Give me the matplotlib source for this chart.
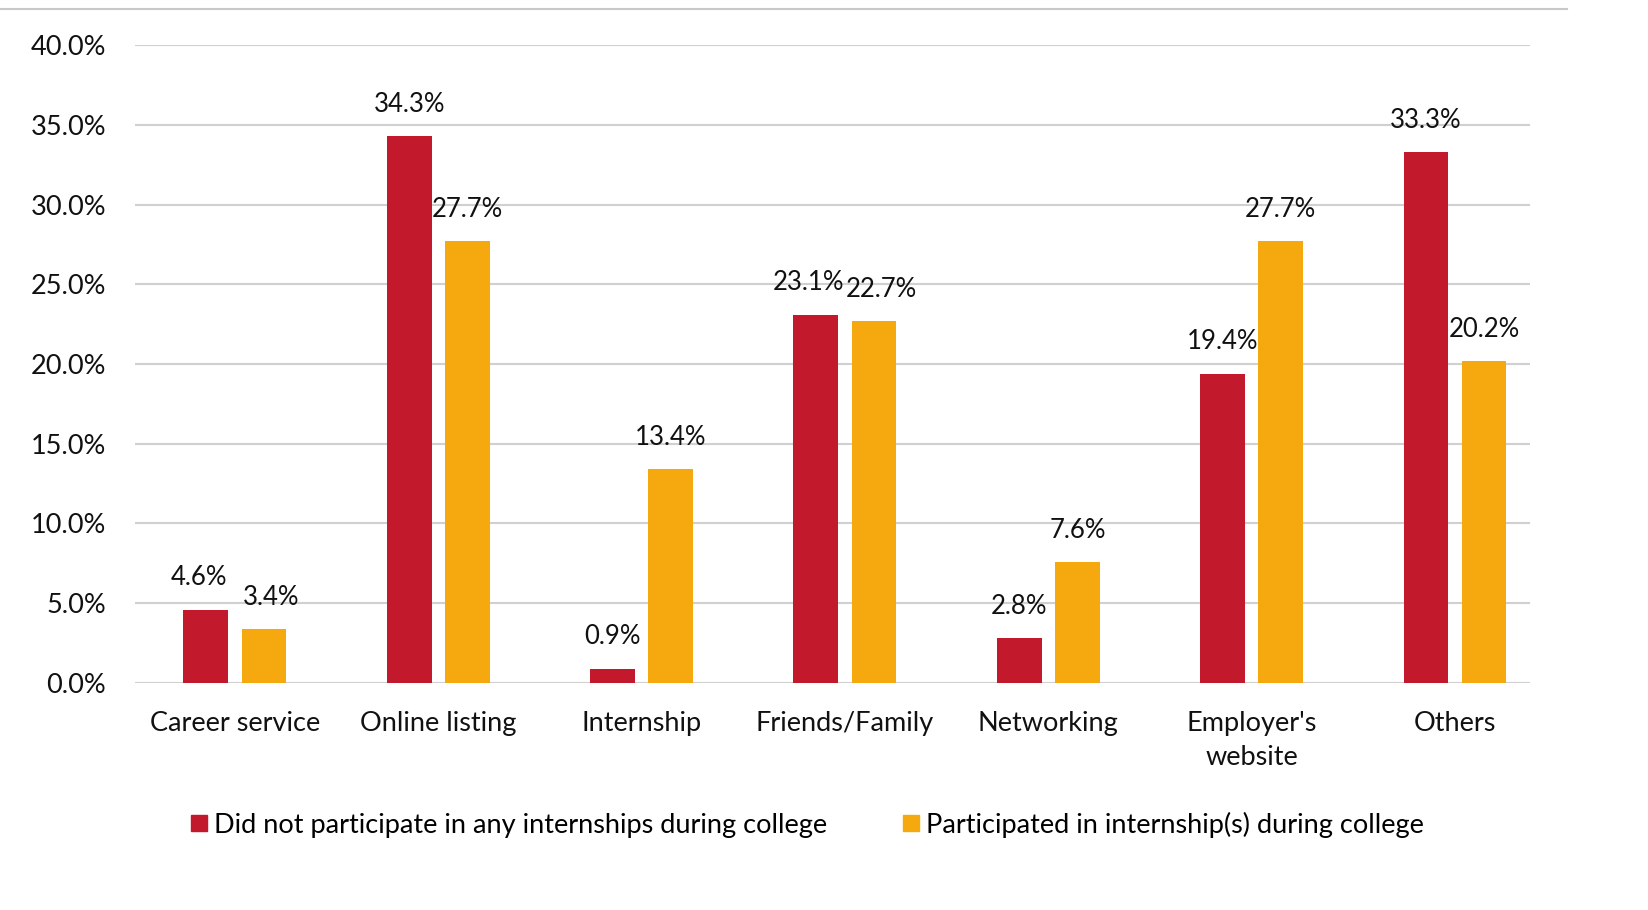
import numpy as np
import matplotlib.pyplot as plt
from matplotlib.lines import Line2D

categories = ["Career service", "Online listing", "Internship", "Friends/Family",
              "Networking", "Employer's\nwebsite", "Others"]
no_intern = [4.6, 34.3, 0.9, 23.1, 2.8, 19.4, 33.3]
intern = [3.4, 27.7, 13.4, 22.7, 7.6, 27.7, 20.2]
series_names = ["Did not participate in any internships during college",
                "Participated in internship(s) during college"]
yticks = [0, 5, 10, 15, 20, 25, 30, 35, 40]

red = '#C3192C'
gold = '#F5A90F'

plt.rcParams['font.family'] = ['Lato', 'DejaVu Sans']

fig = plt.figure(figsize=(16.49, 9.10), dpi=100)
ax = fig.add_axes([0.082, 0.2495, 0.846, 0.701])

x = np.arange(len(categories))
w = 0.22
off = 0.143
b1 = ax.bar(x - off, no_intern, w, color=red)
b2 = ax.bar(x + off, intern, w, color=gold)

# labels above bars; pull the pair apart a little when they sit at the same height
for i in range(len(categories)):
    close = abs(no_intern[i] - intern[i]) < 1.5
    for b, v, side in ((b1[i], no_intern[i], -1), (b2[i], intern[i], 1)):
        dx = 5 * side if close else 0
        ax.annotate(f"{v:.1f}%", (b.get_x() + b.get_width() / 2, v + 1.2),
                    xytext=(dx, 0), textcoords='offset points',
                    ha='center', va='bottom', fontsize=18.5, color='#111111')

ax.set_ylim(0, 40)
ax.set_xlim(-0.49, 6.37)
ax.set_yticks(yticks)
ax.set_yticklabels([f"{t:.1f}%" for t in yticks])
ax.set_xticks(x)
ax.set_xticklabels(categories, va='top', linespacing=1.45)
ax.tick_params(axis='both', length=0, labelsize=19.5, colors='#111111')
ax.tick_params(axis='y', pad=21)
ax.tick_params(axis='x', pad=20)
ax.yaxis.grid(True, color='#d0d0d0', linewidth=1.5)
ax.set_axisbelow(True)
for s in ax.spines.values():
    s.set_visible(False)

handles = [Line2D([], [], marker='s', linestyle='none', markersize=12, color=red),
           Line2D([], [], marker='s', linestyle='none', markersize=12, color=gold)]
fig.legend(handles, series_names, loc='center', bbox_to_anchor=(0.488, 0.094),
           ncol=2, frameon=False, fontsize=19.5, handletextpad=0.05,
           columnspacing=2.6, handlelength=1.0)

fig.add_artist(Line2D([0, 0.95], [0.99, 0.99], color='#c8c8c8', linewidth=1.5,
                      transform=fig.transFigure))

fig.savefig('out.png', dpi=100, facecolor='white')
